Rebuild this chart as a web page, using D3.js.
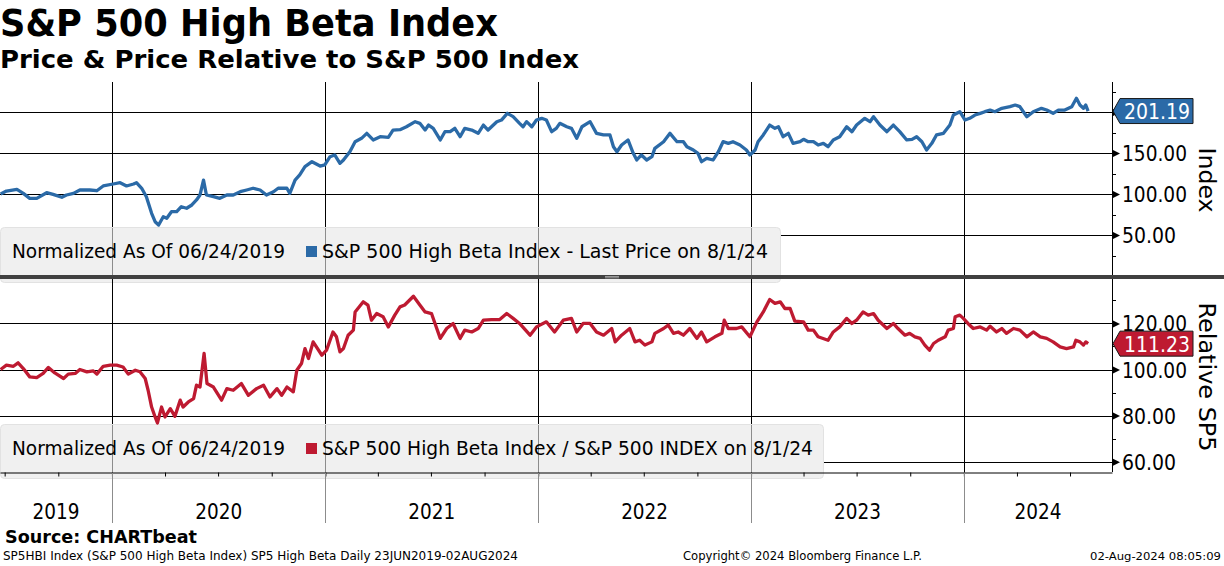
<!DOCTYPE html>
<html>
<head>
<meta charset="utf-8">
<script src="https://cdn.jsdelivr.net/npm/d3@7"></script>
<style>
  body { margin: 0; background: #fff; }
  text { font-family: "DejaVu Sans", Verdana, sans-serif; fill: #000; }
</style>
</head>
<body>
<div id="chart"></div>
<script>
// Price of the high beta index, normalized to 100 on 06/24/2019
const priceDates = ["2019-06-24","2019-07-04","2019-07-22","2019-08-02","2019-08-13","2019-08-25","2019-09-11","2019-09-22","2019-10-07","2019-10-15","2019-10-27","2019-11-07","2019-11-24","2019-12-06","2019-12-17",
  "2020-01-03","2020-01-15","2020-01-26","2020-02-07","2020-02-12","2020-02-21","2020-02-29","2020-03-09","2020-03-15","2020-03-21","2020-03-29","2020-04-04","2020-04-12","2020-04-21","2020-04-29","2020-05-08","2020-05-17","2020-05-25","2020-05-31","2020-06-06","2020-06-11","2020-06-23","2020-07-04","2020-07-16","2020-07-27","2020-08-08","2020-08-19","2020-08-30","2020-09-11","2020-09-22","2020-10-04","2020-10-12","2020-10-27","2020-11-01","2020-11-10","2020-11-18","2020-11-27","2020-12-09","2020-12-23","2020-12-31",
  "2021-01-09","2021-01-17","2021-01-26","2021-02-01","2021-02-12","2021-02-21","2021-03-04","2021-03-13","2021-03-24","2021-04-05","2021-04-19","2021-04-27","2021-05-09","2021-05-20","2021-06-04","2021-06-12","2021-06-21","2021-06-27","2021-07-05","2021-07-17","2021-07-25","2021-08-03","2021-08-11","2021-08-20","2021-08-28","2021-09-09","2021-09-20","2021-09-29","2021-10-07","2021-10-22","2021-10-30","2021-11-09","2021-11-19","2021-11-30","2021-12-06","2021-12-12","2021-12-21","2021-12-29",
  "2022-01-07","2022-01-15","2022-01-24","2022-02-01","2022-02-07","2022-02-19","2022-02-27","2022-03-08","2022-03-17","2022-03-31","2022-04-11","2022-04-23","2022-05-04","2022-05-10","2022-05-16","2022-05-24","2022-06-04","2022-06-13","2022-06-19","2022-06-27","2022-07-06","2022-07-15","2022-07-20","2022-08-04","2022-08-15","2022-08-27","2022-09-07","2022-09-13","2022-09-24","2022-10-02","2022-10-08","2022-10-17","2022-10-28","2022-11-06","2022-11-14","2022-11-23","2022-12-01","2022-12-13","2022-12-24","2022-12-30",
  "2023-01-08","2023-01-13","2023-01-22","2023-02-02","2023-02-11","2023-02-17","2023-02-25","2023-03-06","2023-03-14","2023-03-26","2023-04-01","2023-04-09","2023-04-18","2023-04-26","2023-05-05","2023-05-13","2023-05-22","2023-06-02","2023-06-14","2023-06-23","2023-07-01","2023-07-15","2023-07-24","2023-07-30","2023-08-10","2023-08-22","2023-09-02","2023-09-13","2023-09-25","2023-10-04","2023-10-12","2023-10-21","2023-10-29","2023-11-07","2023-11-15","2023-11-27","2023-12-08","2023-12-14","2023-12-25",
  "2024-01-03","2024-01-11","2024-01-20","2024-01-29","2024-02-06","2024-02-15","2024-02-23","2024-03-06","2024-03-20","2024-03-29","2024-04-06","2024-04-18","2024-04-29","2024-05-13","2024-05-22","2024-06-02","2024-06-11","2024-06-22","2024-07-04","2024-07-12","2024-07-18","2024-07-24","2024-07-28","2024-08-01"];
const priceValues = [100.0,103.6,105.7,100.8,94.7,94.7,101.6,99.6,96.0,98.8,100.8,104.9,104.9,104.0,109.8,
  112.2,113.8,109.8,112.2,113.8,107.0,96.7,76.4,66.2,62.2,72.3,70.4,78.4,78.4,84.5,82.6,86.6,92.7,98.8,117.0,98.8,96.7,94.7,98.8,98.8,102.8,104.9,107.0,104.9,98.8,102.8,107.0,107.0,100.8,117.0,123.2,133.3,139.4,134.1,135.4,
  145.5,147.6,137.4,141.5,151.6,163.8,167.9,174.0,165.9,169.9,169.1,178.0,178.5,182.0,188.2,186.2,178.0,184.1,180.1,165.9,176.0,176.0,180.1,169.9,180.1,178.0,174.0,184.1,178.0,188.2,190.2,198.4,194.3,186.2,182.0,188.2,182.0,190.2,
  192.3,190.2,176.0,180.1,186.2,182.0,180.1,167.9,182.0,188.2,174.0,172.0,172.0,157.7,151.6,159.8,165.9,149.6,141.5,147.6,141.5,145.5,155.7,163.8,174.0,163.8,163.8,157.7,153.7,149.6,139.4,143.5,141.5,151.6,163.8,161.8,163.8,159.8,153.7,147.6,
  153.7,163.8,172.0,184.1,180.1,182.0,169.9,174.0,161.8,163.8,166.7,163.8,163.8,159.8,161.8,157.7,165.9,169.9,182.0,176.0,184.1,192.3,188.2,194.3,184.1,176.0,184.1,176.0,165.9,166.7,169.9,163.8,153.7,161.8,172.0,174.0,184.1,196.3,200.4,
  190.2,192.3,196.3,198.4,200.4,202.4,200.4,204.5,206.5,208.5,206.5,194.3,200.4,204.5,202.4,198.4,202.4,202.4,206.5,216.7,208.5,204.5,208.5,201.19];

// High beta index relative to the S&P 500, normalized to 100 on 06/24/2019
const relDates = ["2019-06-24","2019-07-04","2019-07-16","2019-07-24","2019-08-02","2019-08-13","2019-08-25","2019-09-05","2019-09-14","2019-09-25","2019-10-10","2019-10-18","2019-10-30","2019-11-07","2019-11-19","2019-11-30","2019-12-06","2019-12-17","2019-12-29",
  "2020-01-09","2020-01-20","2020-01-29","2020-02-10","2020-02-18","2020-02-27","2020-03-03","2020-03-09","2020-03-15","2020-03-19","2020-03-26","2020-04-01","2020-04-10","2020-04-18","2020-04-27","2020-05-02","2020-05-11","2020-05-20","2020-05-25","2020-05-31","2020-06-07","2020-06-12","2020-06-23","2020-07-07","2020-07-16","2020-07-27","2020-08-10","2020-08-22","2020-09-05","2020-09-17","2020-09-28","2020-10-10","2020-10-18","2020-10-27","2020-11-07","2020-11-13","2020-11-21","2020-11-27","2020-12-03","2020-12-11","2020-12-26",
  "2021-01-03","2021-01-14","2021-01-20","2021-01-26","2021-02-01","2021-02-09","2021-02-18","2021-02-21","2021-03-07","2021-03-15","2021-03-21","2021-03-30","2021-04-10","2021-04-19","2021-04-30","2021-05-09","2021-05-17","2021-06-01","2021-06-12","2021-06-21","2021-07-02","2021-07-08","2021-07-17","2021-07-28","2021-08-08","2021-08-20","2021-08-28","2021-09-09","2021-09-20","2021-09-29","2021-10-13","2021-10-27","2021-11-08","2021-11-19","2021-11-30","2021-12-18","2021-12-29",
  "2022-01-15","2022-01-29","2022-02-13","2022-02-27","2022-03-08","2022-03-19","2022-03-31","2022-04-11","2022-04-23","2022-05-07","2022-05-13","2022-05-24","2022-06-07","2022-06-16","2022-06-24","2022-07-03","2022-07-15","2022-07-20","2022-08-04","2022-08-12","2022-08-21","2022-08-29","2022-09-07","2022-09-18","2022-09-30","2022-10-08","2022-10-17","2022-10-31","2022-11-12","2022-11-16","2022-11-23","2022-12-07","2022-12-16","2022-12-30",
  "2023-01-11","2023-01-22","2023-02-02","2023-02-11","2023-02-20","2023-02-28","2023-03-09","2023-03-17","2023-04-01","2023-04-09","2023-04-18","2023-04-26","2023-05-13","2023-05-22","2023-06-02","2023-06-14","2023-06-23","2023-07-01","2023-07-12","2023-07-21","2023-07-30","2023-08-07","2023-08-22","2023-09-02","2023-09-10","2023-09-22","2023-09-30","2023-10-09","2023-10-18","2023-10-26","2023-11-03","2023-11-10","2023-11-18","2023-11-30","2023-12-05","2023-12-14","2023-12-17","2023-12-25","2023-12-31",
  "2024-01-08","2024-01-17","2024-01-29","2024-02-09","2024-02-15","2024-02-26","2024-03-06","2024-03-14","2024-03-26","2024-04-06","2024-04-18","2024-04-29","2024-05-11","2024-05-22","2024-06-02","2024-06-14","2024-06-25","2024-07-07","2024-07-11","2024-07-18","2024-07-24","2024-07-28","2024-08-01"];
const relValues = [100.0,101.9,101.4,102.9,100.4,96.8,96.5,98.3,100.9,98.5,96.1,98.0,98.3,100.0,99.0,99.4,98.0,101.4,101.9,
  101.9,101.1,98.0,99.7,99.0,96.1,91.0,83.7,79.4,76.8,83.7,79.4,83.0,79.7,86.7,83.7,85.9,87.4,93.2,92.4,107.0,93.9,92.4,86.7,91.7,91.0,93.9,88.8,91.7,93.2,88.1,91.7,88.8,92.4,90.3,99.7,102.6,109.1,104.8,112.0,106.2,
  108.4,116.3,114.2,107.7,109.1,114.9,117.1,125.0,129.4,128.0,121.4,124.3,122.9,118.5,123.6,127.2,128.0,131.8,128.0,125.0,124.3,120.0,113.5,117.8,120.0,113.5,117.1,116.3,117.8,121.4,121.7,121.7,124.3,122.2,120.0,114.9,118.5,
  120.7,116.3,121.4,122.2,116.3,120.0,120.0,116.3,114.9,117.8,112.0,114.9,117.8,112.0,112.7,110.6,112.0,115.7,117.8,119.3,115.7,116.3,114.9,117.8,113.5,116.3,112.0,114.2,115.7,121.4,117.8,117.8,118.5,114.2,
  120.7,125.0,130.4,128.7,129.4,126.5,126.5,121.0,120.7,117.1,117.1,114.2,112.7,116.3,118.5,122.2,120.0,121.4,125.0,123.6,124.3,121.4,117.8,120.0,117.8,114.9,115.7,114.2,113.5,110.6,108.4,111.3,112.7,114.2,117.1,117.8,122.9,123.6,122.2,
  120.0,117.8,118.5,117.1,118.8,116.3,117.8,115.7,117.8,117.1,114.2,116.3,114.2,113.5,112.0,109.8,109.1,109.8,112.7,112.0,110.6,112.0,111.23];

const years = ["2019", "2020", "2021", "2022", "2023", "2024"];
const priceTicks = [50, 100, 150, 200];
const priceMinorTicks = [25, 75, 125, 175, 225];
const relTicks = [60, 80, 100, 120];
const relMinorTicks = [70, 90, 110, 130];

const width = 1224, height = 566;
const plotRight = 1112;
const blue = "#2b6aa7", red = "#be1a31";

const parseDate = d3.timeParse("%Y-%m-%d");
const priceData = priceDates.map((d, i) => ({ date: parseDate(d), value: priceValues[i] }));
const relData = relDates.map((d, i) => ({ date: parseDate(d), value: relValues[i] }));

// squeeze DejaVu text to the Tahoma-ish widths of the original
const fit = (sel, w) => sel.attr("textLength", w).attr("lengthAdjust", "spacingAndGlyphs");

const svg = d3.select("#chart")
    .append("svg")
    .attr("width", width)
    .attr("height", height);

// Shared time scale
const x = d3.scaleTime()
    .domain([parseDate("2019-06-23"), parseDate("2024-09-11")])
    .range([0, plotRight]);
const yearStarts = d3.timeYear.range(x.domain()[0], x.domain()[1]);

// Titles
fit(svg.append("text").attr("x", 0).attr("y", 36)
    .style("font-size", "37px").style("font-weight", "bold")
    .text("S&P 500 High Beta Index"), 498);
fit(svg.append("text").attr("x", 0).attr("y", 68)
    .style("font-size", "25px").style("font-weight", "bold")
    .text("Price & Price Relative to S&P 500 Index"), 579);

function drawPanel(p) {
    const y = p.y;
    const [bottom, top] = y.range();
    const g = svg.append("g");

    // Horizontal gridlines
    g.selectAll(".hgrid")
        .data(p.ticks)
        .enter().append("line")
        .attr("x1", 0).attr("x2", plotRight)
        .attr("y1", d => Math.round(y(d)) + 0.5)
        .attr("y2", d => Math.round(y(d)) + 0.5)
        .attr("stroke", "#000");

    // Vertical year lines
    g.selectAll(".vgrid")
        .data(yearStarts)
        .enter().append("line")
        .attr("x1", d => Math.round(x(d)) + 0.5)
        .attr("x2", d => Math.round(x(d)) + 0.5)
        .attr("y1", top).attr("y2", bottom)
        .attr("stroke", "#000");

    // Legend box
    g.append("rect")
        .attr("x", 0.5).attr("y", p.legendTop + 0.5)
        .attr("width", p.legendWidth).attr("height", bottom - p.legendTop + 6)
        .attr("rx", 4)
        .attr("fill", "#f0f0f0")
        .attr("stroke", "#e2e2e2");

    // Year lines seen through the legend
    g.selectAll(".vlegend")
        .data(yearStarts.filter(d => x(d) < p.legendWidth))
        .enter().append("line")
        .attr("x1", d => Math.round(x(d)) + 0.5)
        .attr("x2", d => Math.round(x(d)) + 0.5)
        .attr("y1", p.legendTop + 1).attr("y2", bottom)
        .attr("stroke", "#8c8c8c");

    fit(g.append("text").attr("x", 12).attr("y", p.legendTop + 31)
        .style("font-size", "20px")
        .text("Normalized As Of 06/24/2019"), 273);
    g.append("rect")
        .attr("x", 306).attr("y", p.legendTop + 19)
        .attr("width", 11).attr("height", 11)
        .attr("fill", p.color);
    fit(g.append("text").attr("x", 322).attr("y", p.legendTop + 31)
        .style("font-size", "20px")
        .text(p.legend), p.legendTextWidth);

    // Series line
    const line = d3.line()
        .x(d => x(d.date))
        .y(d => y(d.value));
    g.append("path")
        .datum(p.data)
        .attr("fill", "none")
        .attr("stroke", p.color)
        .attr("stroke-width", 3.3)
        .attr("stroke-linejoin", "round")
        .attr("d", line);

    // Right axis
    g.append("line")
        .attr("x1", plotRight + 0.5).attr("x2", plotRight + 0.5)
        .attr("y1", top).attr("y2", bottom)
        .attr("stroke", "#000");
    g.selectAll(".minor")
        .data(p.minorTicks)
        .enter().append("line")
        .attr("x1", plotRight).attr("x2", plotRight + 4)
        .attr("y1", d => Math.round(y(d)) + 0.5)
        .attr("y2", d => Math.round(y(d)) + 0.5)
        .attr("stroke", "#000");
    g.selectAll(".major")
        .data(p.ticks)
        .enter().append("path")
        .attr("d", d => `M${plotRight},${y(d) - 3.5}L${plotRight + 8},${y(d) + 0.5}L${plotRight},${y(d) + 4.5}Z`)
        .attr("fill", "#000");
    g.selectAll(".tlabel")
        .data(p.ticks)
        .enter().append("text")
        .attr("x", 1122)
        .attr("y", d => y(d) + 8)
        .style("font-size", "21px")
        .attr("textLength", d => d3.format(".2f")(d).length * 11 - 1)
        .attr("lengthAdjust", "spacingAndGlyphs")
        .text(d => d3.format(".2f")(d));

    // Last value flag
    const last = p.data[p.data.length - 1];
    const ly = y(last.value);
    g.append("path")
        .attr("d", `M${plotRight + 1},${ly}L${plotRight + 8},${ly - 12.5}H1193V${ly + 12.5}H${plotRight + 8}Z`)
        .attr("fill", p.color)
        .attr("stroke", "#1a1a1a");
    fit(g.append("text")
        .attr("x", 1124).attr("y", ly + 8)
        .style("font-size", "21px")
        .style("fill", "#fff")
        .text(d3.format(".2f")(last.value)), 66);

    // Axis title
    fit(g.append("text")
        .attr("transform", `translate(1199,${p.titleY}) rotate(90)`)
        .attr("text-anchor", "middle")
        .style("font-size", "23px")
        .text(p.title), p.titleWidth);
}

drawPanel({
    y: d3.scaleLinear().domain([0, 236.6]).range([276, 82]),
    ticks: priceTicks, minorTicks: priceMinorTicks,
    data: priceData, color: blue,
    legendTop: 227, legendWidth: 780, legendTextWidth: 446,
    legend: "S&P 500 High Beta Index - Last Price on 8/1/24",
    title: "Index", titleY: 180, titleWidth: 65
});

drawPanel({
    y: d3.scaleLinear().domain([55.5, 139.3]).range([472, 279]),
    ticks: relTicks, minorTicks: relMinorTicks,
    data: relData, color: red,
    legendTop: 424, legendWidth: 823, legendTextWidth: 491,
    legend: "S&P 500 High Beta Index / S&P 500 INDEX on 8/1/24",
    title: "Relative SP5", titleY: 377, titleWidth: 149
});

// Panel separator with grip
svg.append("rect")
    .attr("x", 0).attr("y", 275)
    .attr("width", width).attr("height", 4)
    .attr("fill", "#404040");
[276.5, 277.8].forEach(gy => svg.append("line")
    .attr("x1", 605).attr("x2", 619).attr("y1", gy).attr("y2", gy)
    .attr("stroke", "#b0b0b0").attr("stroke-width", 0.8));

// X axis
const xAxis = svg.append("g")
    .attr("transform", "translate(0,472.5)")
    .call(d3.axisBottom(x)
        .ticks(d3.timeMonth.every(3))
        .tickSize(4)
        .tickSizeOuter(0)
        .tickFormat(""));
xAxis.select(".domain").attr("stroke", "#000");
xAxis.selectAll(".tick line").attr("stroke", "#000");

svg.selectAll(".ygrey")
    .data(yearStarts)
    .enter().append("line")
    .attr("x1", d => Math.round(x(d)) + 0.5)
    .attr("x2", d => Math.round(x(d)) + 0.5)
    .attr("y1", 473).attr("y2", 523)
    .attr("stroke", "#8c8c8c");

// Year labels centred in each visible year
svg.selectAll(".year")
    .data(years)
    .enter().append("text")
    .attr("x", d => {
        const a = d3.max([parseDate(d + "-01-01"), x.domain()[0]]);
        const b = d3.min([parseDate((+d + 1) + "-01-01"), x.domain()[1]]);
        return (x(a) + x(b)) / 2;
    })
    .attr("y", 519)
    .attr("text-anchor", "middle")
    .attr("textLength", 47)
    .attr("lengthAdjust", "spacingAndGlyphs")
    .style("font-size", "22px")
    .text(d => d);

// Footer
fit(svg.append("text").attr("x", 5).attr("y", 543)
    .style("font-size", "18px").style("font-weight", "bold")
    .text("Source: CHARTbeat"), 192);
fit(svg.append("text").attr("x", 3).attr("y", 560)
    .style("font-size", "12.5px")
    .text("SP5HBI Index (S&P 500 High Beta Index) SP5 High Beta  Daily 23JUN2019-02AUG2024"), 515);
fit(svg.append("text").attr("x", 683).attr("y", 560)
    .style("font-size", "12.5px")
    .text("Copyright\u00a9 2024 Bloomberg Finance L.P."), 239);
fit(svg.append("text").attr("x", 1221).attr("y", 560)
    .attr("text-anchor", "end")
    .style("font-size", "11px")
    .text("02-Aug-2024 08:05:09"), 131);
</script>
</body>
</html>
